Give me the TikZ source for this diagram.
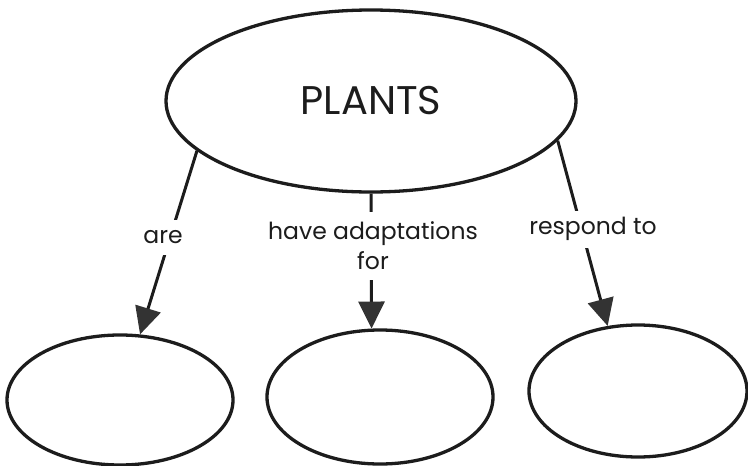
\documentclass[tikz,border=0pt]{standalone}
\usepackage{fontspec}
\newfontfamily\pfont{Poppins}
\usetikzlibrary{shapes.geometric,arrows.meta}
\definecolor{ink}{HTML}{1C1C1C}
\definecolor{tipgray}{HTML}{333333}
\tikzset{
  bubble/.style={ellipse, draw=ink, line width=3.3pt, inner sep=0pt},
  link/.style={draw=ink, line width=3pt, -{Triangle[length=27pt,width=26pt,color=tipgray]}},
  linklabel/.style={fill=white, inner xsep=4pt, inner ysep=0pt, align=center, font=\pfont\fontsize{23.5}{30}\selectfont, text=ink},
}
\begin{document}
\begin{tikzpicture}[x=1pt,y=-1pt]
\path[fill=white] (0,0) rectangle (748,466);
\useasboundingbox (0,0) rectangle (748,466);
\node[bubble, minimum width=410pt, minimum height=182pt, font=\pfont\fontsize{40}{42}\selectfont, text=ink] (plants) at (371,101) {PLANTS\hspace{8pt}};
\node[bubble, minimum width=226pt, minimum height=130pt] (bl) at (120,400) {};
\node[bubble, minimum width=226pt, minimum height=134pt] (bm) at (380,397) {};
\node[bubble, minimum width=218pt, minimum height=132pt] (br) at (638,391) {};
\draw[link] (plants.196) -- (bl.73);
\draw[link] (plants.270) -- (bm.97);
\draw[link] (plants.348) -- (br.115);
\node[linklabel, minimum height=35pt] (are) at (163,237) {are};
\node[linklabel, minimum height=68pt] (adapt) at (373,246) {have adaptations\\for};
\node[linklabel, minimum height=37pt] (respond) at (593,229) {respond to};
\end{tikzpicture}
\end{document}
